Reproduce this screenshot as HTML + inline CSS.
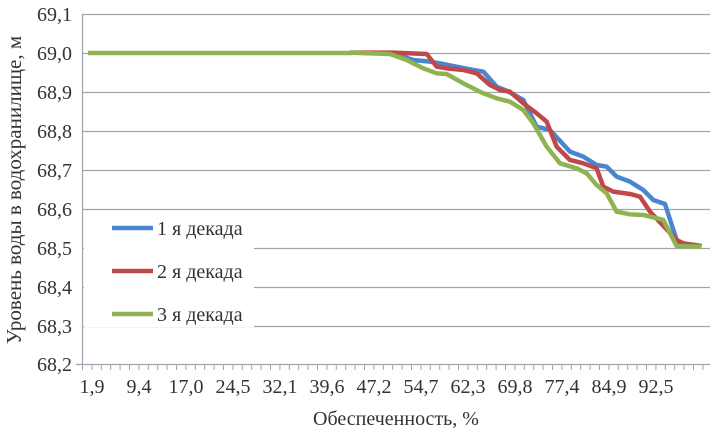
<!DOCTYPE html>
<html><head><meta charset="utf-8"><style>
body{margin:0;background:#fff;}
svg{display:block;font-family:"Liberation Serif",serif;}
</style></head><body>
<svg width="715" height="435" viewBox="0 0 715 435">
<g stroke="#a0a4ac" stroke-width="1.2">
<line x1="82" y1="14.5" x2="710" y2="14.5"/>
<line x1="82" y1="53.5" x2="710" y2="53.5"/>
<line x1="82" y1="92.5" x2="710" y2="92.5"/>
<line x1="82" y1="131.5" x2="710" y2="131.5"/>
<line x1="82" y1="170.5" x2="710" y2="170.5"/>
<line x1="82" y1="209.5" x2="710" y2="209.5"/>
<line x1="82" y1="248.5" x2="710" y2="248.5"/>
<line x1="82" y1="287.5" x2="710" y2="287.5"/>
<line x1="82" y1="326.5" x2="710" y2="326.5"/>
<line x1="76" y1="364.5" x2="710" y2="364.5"/>
<line x1="82.5" y1="14" x2="82.5" y2="365"/>
</g>
<g id="ticks" stroke="#a0a4ac" stroke-width="1"></g>
<rect x="84" y="212" width="170" height="115" fill="#fff"/>
<g fill="#333" font-size="20" text-anchor="end">
<text x="72" y="21">69,1</text><text x="72" y="60">69,0</text><text x="72" y="99">68,9</text>
<text x="72" y="138">68,8</text><text x="72" y="177">68,7</text><text x="72" y="216">68,6</text>
<text x="72" y="255">68,5</text><text x="72" y="294">68,4</text><text x="72" y="333">68,3</text>
<text x="72" y="371">68,2</text>
</g>
<g fill="#333" font-size="20" text-anchor="middle">
<text x="92" y="393">1,9</text><text x="139" y="393">9,4</text><text x="186" y="393">17,0</text>
<text x="233" y="393">24,5</text><text x="280" y="393">32,1</text><text x="327" y="393">39,6</text>
<text x="374" y="393">47,2</text><text x="421" y="393">54,7</text><text x="468" y="393">62,3</text>
<text x="515" y="393">69,8</text><text x="562" y="393">77,4</text><text x="609" y="393">84,9</text>
<text x="656" y="393">92,5</text>
<text x="396" y="425">Обеспеченность, %</text>
<text font-size="21" transform="translate(21,190) rotate(-90)">Уровень воды в водохранилище, м</text>
</g>
<g fill="none" stroke-width="4.5" stroke-linejoin="round">
<line x1="88" y1="53" x2="352" y2="53" stroke="#8fb350"/>
<g transform="translate(350,30) scale(0.3333)">
<polyline vector-effect="non-scaling-stroke" stroke="#4a86d0" points="0,68 130,70 190,90 240,95 270,100 320,110 360,118 400,125 440,170 470,182 520,210 560,290 600,300 660,365 700,380 740,405 770,410 800,440 840,455 880,480 910,510 945,522 980,630 1000,645 1055,648"/>
<polyline vector-effect="non-scaling-stroke" stroke="#c04848" points="0,68 130,68 230,72 260,110 290,115 340,120 380,130 420,165 450,180 480,185 520,220 560,250 590,275 620,350 660,390 700,400 740,415 760,470 790,485 840,492 870,500 900,545 980,630 1000,640 1055,648"/>
<polyline vector-effect="non-scaling-stroke" stroke="#8fb350" points="0,68 120,72 170,90 220,115 260,130 290,132 340,160 400,190 440,205 480,215 520,240 550,280 590,350 630,400 680,415 710,430 740,465 770,490 800,545 840,553 880,555 940,570 980,648 1055,650"/>
</g>
<line x1="112" y1="228" x2="153" y2="228" stroke="#4a86d0"/>
<line x1="112" y1="271" x2="153" y2="271" stroke="#c04848"/>
<line x1="112" y1="314" x2="153" y2="314" stroke="#8fb350"/>
</g>
<g fill="#333" font-size="20">
<text x="157" y="235">1 я декада</text>
<text x="157" y="278">2 я декада</text>
<text x="157" y="321">3 я декада</text>
</g>
</svg>
<script>
var g=document.getElementById('ticks'),s='';
for(var x=82.5;x<=711;x+=9.4){s+='<line x1="'+x+'" y1="364" x2="'+x+'" y2="370"/>';}
g.innerHTML=s;
</script>
</body></html>
